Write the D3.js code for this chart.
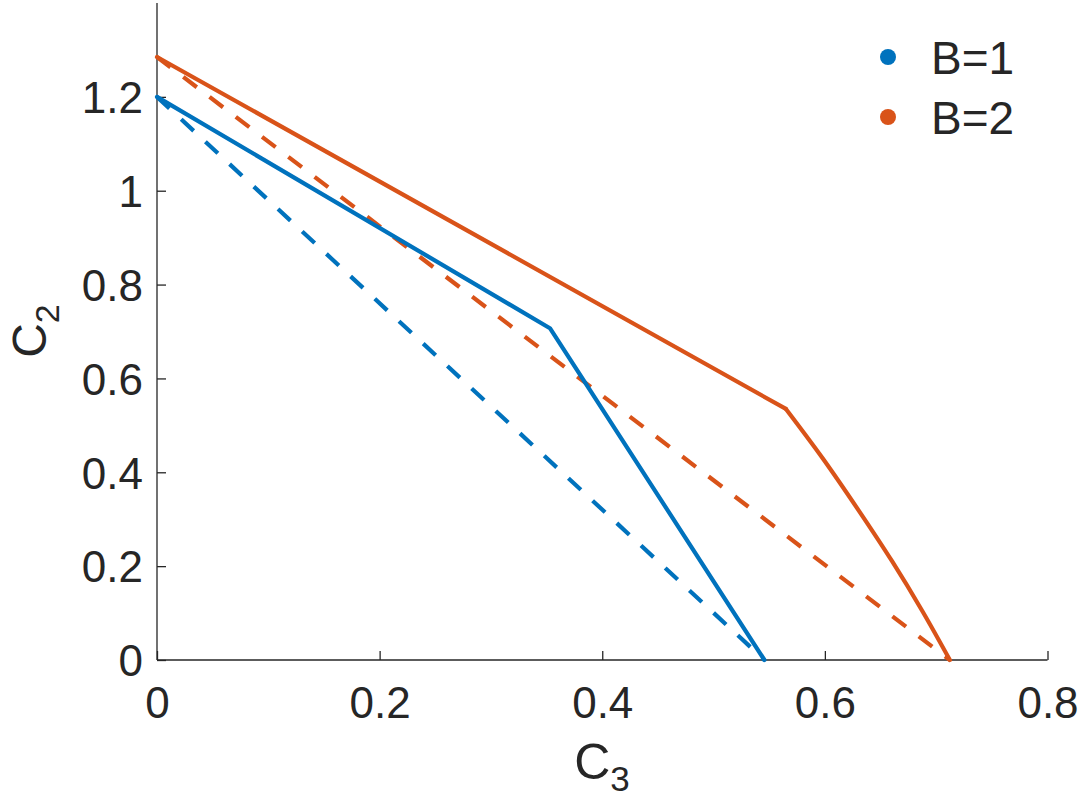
<!DOCTYPE html>
<html>
<head>
<meta charset="utf-8">
<script src="https://cdn.jsdelivr.net/npm/d3@7"></script>
<style>
html,body{margin:0;padding:0;background:#fff;}
text{font-family:"Liberation Sans",Arial,Helvetica,sans-serif;fill:#262626;}
</style>
</head>
<body>
<svg id="chart" width="1084" height="809"></svg>
<script>
// Data
const xTicks = [0, 0.2, 0.4, 0.6, 0.8];
const yTicks = [0, 0.2, 0.4, 0.6, 0.8, 1, 1.2];
const seriesNames = ["B=1", "B=2"];
const seriesColors = ["#0072BD", "#D95319"];

// B=1 solid: [C3, C2]
const b1Solid = [[0, 1.2], [0.353, 0.707], [0.5457, 0]];
// B=1 dashed
const b1Dashed = [[0, 1.2], [0.5457, 0]];
// B=2 solid: straight part, then curved part after the kink
const b2SolidStraight = [[0, 1.285], [0.565, 0.535]];
const b2SolidCurve = [[0.565, 0.535], [0.598, 0.43], [0.630, 0.32], [0.6605, 0.21], [0.6874, 0.105], [0.7123, 0]];
// B=2 dashed
const b2Dashed = [[0, 1.285], [0.7123, 0]];

const svg = d3.select("#chart");
const x = d3.scaleLinear().domain([0, 0.8]).range([157, 1047.5]);
const y = d3.scaleLinear().domain([0, 1.4]).range([660, 3]);

const axisColor = "#262626";

svg.append("g").attr("transform", "translate(0,660)")
  .call(d3.axisBottom(x).tickValues(xTicks).tickSize(-9).tickPadding(0).tickFormat(d3.format("")))
  .call(g => g.select(".domain").attr("stroke", axisColor).attr("stroke-width", 1.3).attr("d", `M${x(0)},0H${x(0.8)}`))
  .call(g => g.selectAll(".tick line").attr("stroke", axisColor).attr("stroke-width", 1.3))
  .call(g => g.selectAll(".tick text").attr("font-size", 44).attr("y", 58).attr("dy", 0)
      .attr("fill", axisColor).attr("font-family", "Liberation Sans, Arial, sans-serif"));

svg.append("g").attr("transform", "translate(157,0)")
  .call(d3.axisLeft(y).tickValues(yTicks).tickSize(-9).tickPadding(0).tickFormat(d3.format("")))
  .call(g => g.select(".domain").attr("stroke", axisColor).attr("stroke-width", 1.3).attr("d", `M0,${y(0)}V${y(1.4)}`))
  .call(g => g.selectAll(".tick line").attr("stroke", axisColor).attr("stroke-width", 1.3))
  .call(g => g.selectAll(".tick text").attr("font-size", 44).attr("x", -14).attr("dy", "0.36em")
      .attr("fill", axisColor).attr("font-family", "Liberation Sans, Arial, sans-serif"));

const line = d3.line().x(d => x(d[0])).y(d => y(d[1]));
const curve = d3.line().x(d => x(d[0])).y(d => y(d[1])).curve(d3.curveCatmullRom.alpha(0.5));

function draw(data, color, dashed, gen) {
  svg.append("path").datum(data)
    .attr("d", gen || line)
    .attr("fill", "none")
    .attr("stroke", color)
    .attr("stroke-width", 4.2)
    .attr("stroke-linejoin", "round")
    .attr("stroke-linecap", dashed ? "butt" : "round")
    .attr("stroke-dasharray", dashed ? "17,16" : null);
}
draw(b1Dashed, seriesColors[0], true);
draw(b2Dashed, seriesColors[1], true);
draw(b1Solid, seriesColors[0], false);
draw(b2SolidStraight, seriesColors[1], false);
draw(b2SolidCurve, seriesColors[1], false, curve);

// axis labels
const xl = svg.append("text").attr("x", 602).attr("y", 779).attr("text-anchor", "middle").attr("font-size", 50);
xl.append("tspan").text("C");
xl.append("tspan").attr("font-size", 35).attr("dy", 12).text("3");

const yl = svg.append("text").attr("transform", "translate(46,331) rotate(-90)").attr("text-anchor", "middle").attr("font-size", 48);
yl.append("tspan").text("C");
yl.append("tspan").attr("font-size", 34).attr("dy", 13).text("2");

// legend
const legend = svg.append("g");
seriesNames.forEach((name, i) => {
  const cy = 57 + i * 60;
  legend.append("circle").attr("cx", 888).attr("cy", cy).attr("r", 8).attr("fill", seriesColors[i]);
  legend.append("text").attr("x", 931).attr("y", cy).attr("dy", "0.36em").attr("font-size", 46).text(name);
});
</script>
</body>
</html>
